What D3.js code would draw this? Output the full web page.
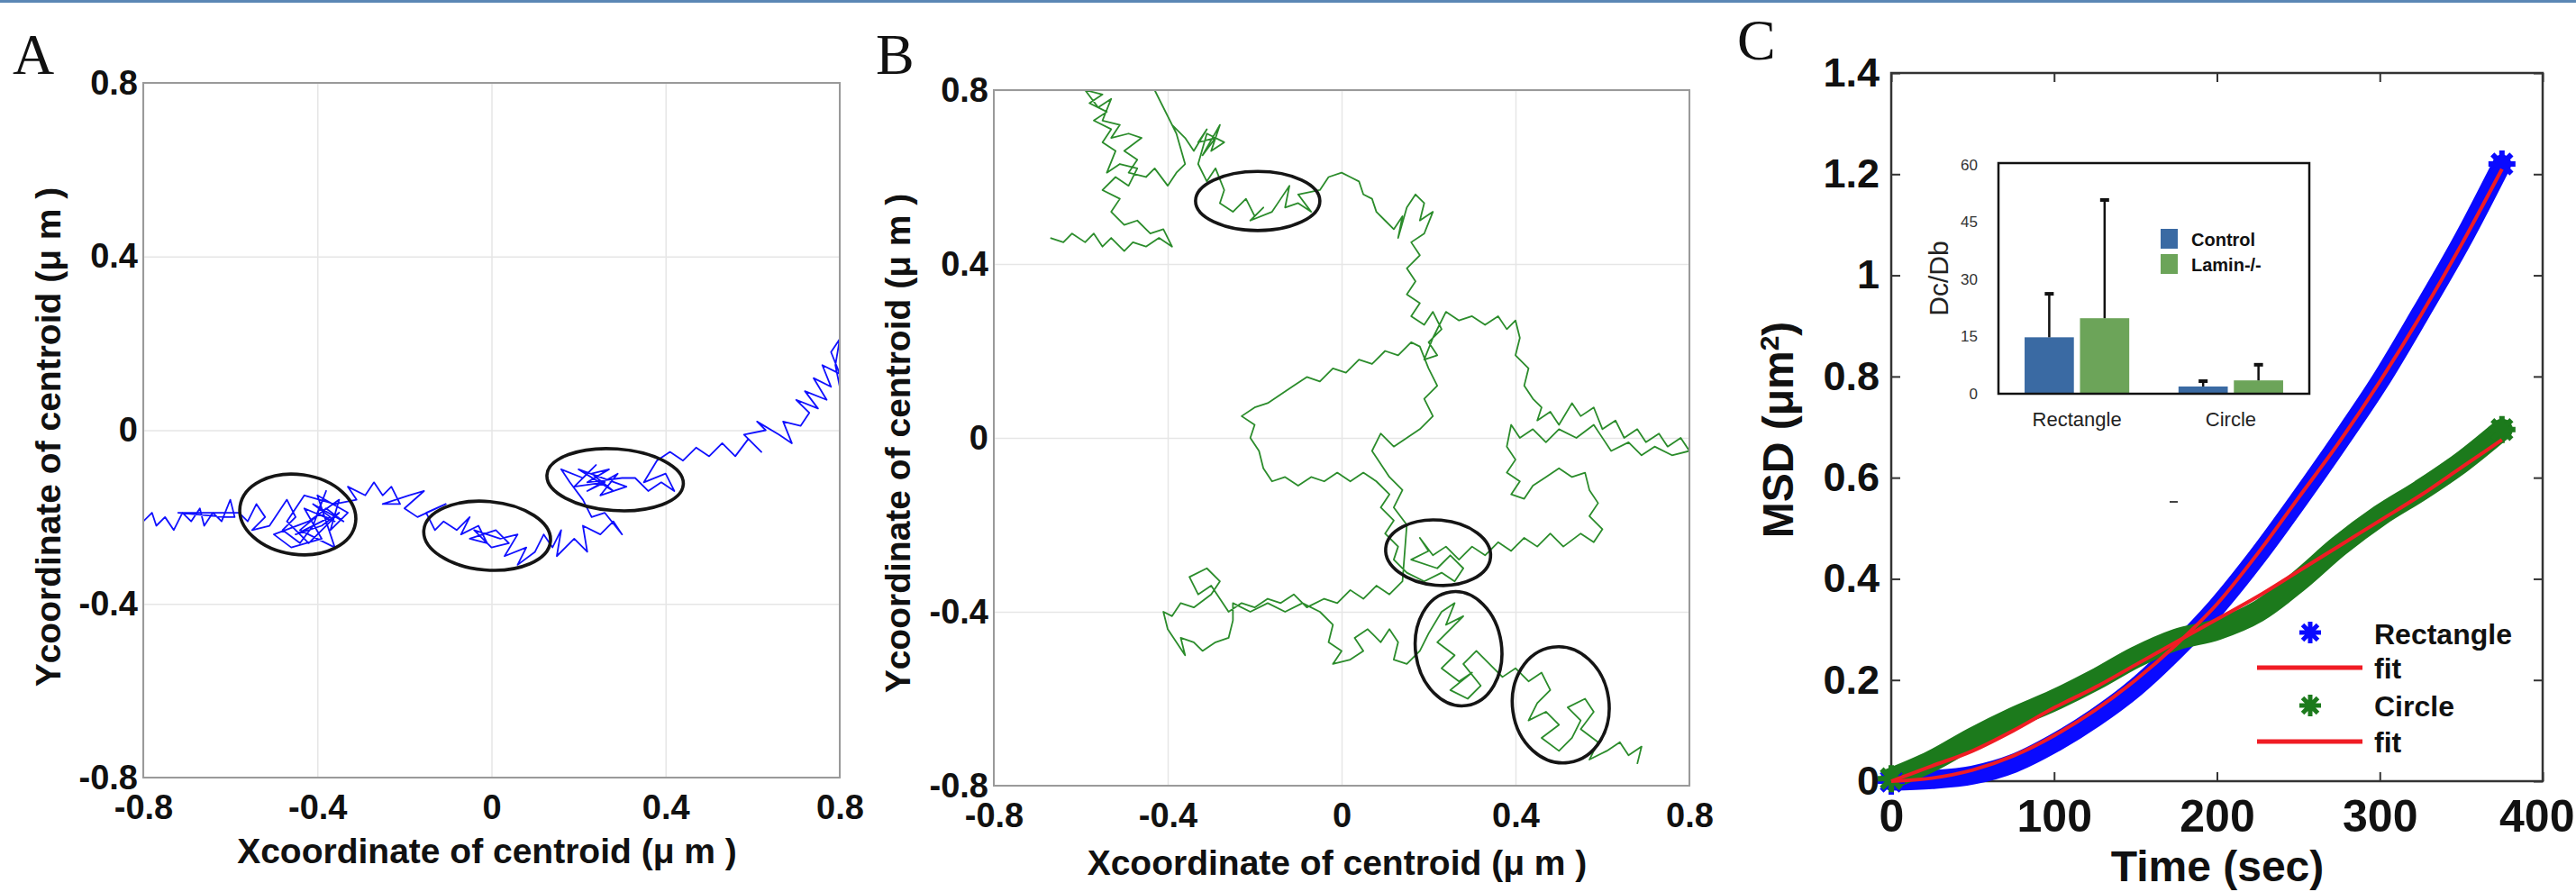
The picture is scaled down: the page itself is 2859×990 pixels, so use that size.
<!DOCTYPE html>
<html lang="en">
<head>
    <meta charset="UTF-8">
    <title>Centroid tracks and MSD</title>
    <script src="https://cdn.jsdelivr.net/npm/d3@7"></script>
    <style>
        body { margin: 0; background: #fff; }
        text { font-family: "Liberation Sans", Arial, sans-serif; }
    </style>
</head>
<body>
<script>
    var W = 2859, H = 990;

    // ---- panel A / B : centroid tracks (µm) ----
    var trackTicks = [-0.8, -0.4, 0, 0.4, 0.8];

    var trackA = [
        [-0.80,-0.21],[-0.78,-0.19],[-0.77,-0.22],[-0.75,-0.20],[-0.73,-0.23],[-0.71,-0.19],[-0.69,-0.21],[-0.67,-0.18],
        [-0.66,-0.22],[-0.64,-0.19],[-0.62,-0.21],[-0.60,-0.16],[-0.59,-0.20],[-0.61,-0.20],[-0.72,-0.19],[-0.58,-0.19],
        [-0.56,-0.21],[-0.54,-0.17],[-0.52,-0.20],[-0.55,-0.23],[-0.51,-0.22],[-0.49,-0.19],[-0.47,-0.16],[-0.45,-0.20],
        [-0.48,-0.23],[-0.44,-0.26],[-0.41,-0.22],[-0.38,-0.14],[-0.40,-0.19],[-0.36,-0.21],[-0.43,-0.18],[-0.39,-0.25],
        [-0.46,-0.27],[-0.50,-0.24],[-0.42,-0.21],[-0.35,-0.16],[-0.37,-0.23],[-0.33,-0.19],[-0.40,-0.15],[-0.36,-0.27],
        [-0.44,-0.23],[-0.38,-0.18],[-0.34,-0.21],[-0.41,-0.17],[-0.37,-0.20],[-0.45,-0.24],[-0.39,-0.22],[-0.35,-0.19],
        [-0.42,-0.26],[-0.47,-0.21],[-0.43,-0.15],[-0.36,-0.17],[-0.31,-0.16],[-0.33,-0.13],[-0.29,-0.15],[-0.27,-0.12],
        [-0.25,-0.15],[-0.23,-0.13],[-0.21,-0.17],[-0.25,-0.17],[-0.19,-0.15],[-0.155,-0.14],[-0.20,-0.18],[-0.17,-0.20],
        [-0.105,-0.17],[-0.15,-0.19],[-0.13,-0.23],[-0.11,-0.21],[-0.08,-0.23],[-0.05,-0.20],[-0.07,-0.24],[-0.03,-0.22],
        [-0.01,-0.26],[-0.05,-0.25],[0.01,-0.23],[0.04,-0.26],[0.00,-0.27],[-0.04,-0.23],[0.02,-0.25],[0.06,-0.24],
        [0.03,-0.29],[0.08,-0.27],[0.06,-0.31],[0.10,-0.28],[0.12,-0.24],[0.14,-0.27],[0.16,-0.23],[0.15,-0.29],
        [0.19,-0.25],[0.22,-0.28],[0.21,-0.22],[0.25,-0.24],[0.28,-0.21],[0.30,-0.24],[0.26,-0.19],[0.23,-0.20],
        [0.21,-0.16],[0.18,-0.12],[0.16,-0.09],[0.21,-0.11],[0.24,-0.08],[0.19,-0.13],[0.26,-0.12],[0.22,-0.14],
        [0.29,-0.10],[0.25,-0.15],[0.31,-0.13],[0.20,-0.09],[0.28,-0.14],[0.23,-0.10],[0.27,-0.09],[0.22,-0.12],
        [0.30,-0.11],[0.33,-0.11],[0.36,-0.14],[0.39,-0.12],[0.42,-0.14],[0.40,-0.10],[0.35,-0.12],[0.38,-0.07],
        [0.41,-0.05],[0.44,-0.07],[0.47,-0.04],[0.50,-0.06],[0.53,-0.03],[0.56,-0.06],[0.59,-0.02],[0.62,-0.05],
        [0.58,-0.01],[0.63,0.00],[0.61,0.02],[0.66,-0.01],[0.69,-0.03],[0.67,0.02],[0.71,0.01],[0.73,0.04],
        [0.70,0.07],[0.75,0.05],[0.72,0.09],[0.77,0.07],[0.74,0.12],[0.78,0.10],[0.76,0.15],[0.80,0.13],
        [0.78,0.18],[0.80,0.21],[0.79,0.15],[0.80,0.10]
    ];
    var ellipsesA = [
        {cx: -0.445, cy: -0.194, rx: 0.134, ry: 0.092, rot: 8},
        {cx: -0.010, cy: -0.243, rx: 0.146, ry: 0.079, rot: 5},
        {cx: 0.284,  cy: -0.114, rx: 0.157, ry: 0.071, rot: 4}
    ];

    var trackB = [
        [-0.67,0.46],[-0.64,0.45],[-0.62,0.47],[-0.59,0.45],[-0.57,0.47],[-0.55,0.44],[-0.53,0.46],[-0.50,0.43],
        [-0.48,0.45],[-0.45,0.44],[-0.42,0.46],[-0.39,0.44],[-0.41,0.48],[-0.44,0.47],[-0.47,0.50],[-0.50,0.49],
        [-0.53,0.52],[-0.51,0.55],[-0.55,0.57],[-0.52,0.60],[-0.49,0.58],[-0.47,0.62],[-0.51,0.63],[-0.54,0.61],
        [-0.52,0.66],[-0.55,0.68],[-0.53,0.71],[-0.57,0.73],[-0.54,0.75],[-0.58,0.77],[-0.55,0.79],[-0.59,0.80],
        [-0.56,0.76],[-0.53,0.78],[-0.55,0.73],[-0.51,0.72],[-0.53,0.69],[-0.49,0.70],[-0.46,0.69],[-0.50,0.66],
        [-0.47,0.64],[-0.49,0.61],[-0.45,0.60],[-0.43,0.62],[-0.40,0.58],[-0.38,0.61],[-0.36,0.63],[-0.38,0.70],
        [-0.40,0.74],[-0.42,0.78],[-0.43,0.80],[-0.41,0.76],[-0.39,0.72],[-0.36,0.69],[-0.34,0.66],[-0.31,0.71],
        [-0.33,0.68],[-0.29,0.69],[-0.32,0.65],[-0.28,0.72],[-0.30,0.66],[-0.27,0.68],[-0.31,0.70],[-0.33,0.63],
        [-0.31,0.59],[-0.29,0.62],[-0.27,0.57],[-0.28,0.54],[-0.25,0.52],[-0.22,0.55],[-0.20,0.51],[-0.18,0.53],
        [-0.21,0.50],[-0.16,0.52],[-0.14,0.55],[-0.12,0.58],[-0.13,0.53],[-0.10,0.54],[-0.07,0.52],[-0.10,0.56],
        [-0.05,0.57],[-0.03,0.60],[0.00,0.61],[0.02,0.60],[0.04,0.59],[0.05,0.56],[0.07,0.55],[0.08,0.52],
        [0.10,0.50],[0.12,0.48],[0.14,0.51],[0.13,0.46],[0.15,0.53],[0.17,0.56],[0.19,0.54],[0.18,0.50],
        [0.21,0.52],[0.19,0.47],[0.16,0.45],[0.18,0.42],[0.15,0.39],[0.17,0.36],[0.15,0.33],[0.18,0.31],
        [0.16,0.28],[0.19,0.26],[0.21,0.29],[0.23,0.25],[0.20,0.22],[0.22,0.19],[0.19,0.18],[0.21,0.23],
        [0.24,0.29],[0.27,0.27],[0.30,0.28],[0.33,0.26],[0.36,0.28],[0.38,0.25],[0.40,0.27],[0.41,0.23],
        [0.40,0.19],[0.43,0.16],[0.42,0.12],[0.44,0.09],[0.46,0.07],[0.45,0.04],[0.48,0.06],[0.50,0.03],
        [0.53,0.08],[0.55,0.05],[0.58,0.07],[0.60,0.02],[0.63,0.04],[0.65,0.00],[0.68,0.02],[0.70,-0.01],
        [0.73,0.01],[0.75,-0.02],[0.78,0.00],[0.80,-0.03],[0.76,-0.04],[0.72,-0.02],[0.69,-0.04],[0.66,-0.01],
        [0.62,-0.03],[0.58,0.03],[0.54,0.00],[0.50,0.02],[0.47,-0.01],[0.44,0.02],[0.41,0.00],[0.39,0.03],
        [0.38,-0.02],[0.40,-0.05],[0.38,-0.08],[0.41,-0.10],[0.39,-0.13],[0.42,-0.14],[0.44,-0.11],[0.47,-0.09],
        [0.50,-0.07],[0.53,-0.09],[0.56,-0.08],[0.57,-0.12],[0.59,-0.15],[0.57,-0.18],[0.60,-0.21],[0.58,-0.24],
        [0.55,-0.22],[0.51,-0.25],[0.48,-0.22],[0.45,-0.25],[0.42,-0.23],[0.39,-0.26],[0.36,-0.24],[0.33,-0.27],
        [0.30,-0.25],[0.27,-0.28],[0.24,-0.25],[0.21,-0.27],[0.18,-0.23],[0.20,-0.26],[0.16,-0.28],[0.22,-0.30],
        [0.25,-0.27],[0.28,-0.30],[0.26,-0.33],[0.23,-0.31],[0.19,-0.33],[0.15,-0.31],[0.12,-0.28],[0.13,-0.25],
        [0.10,-0.22],[0.12,-0.19],[0.09,-0.16],[0.11,-0.13],[0.08,-0.10],[0.05,-0.08],[0.02,-0.10],[-0.01,-0.08],
        [-0.04,-0.10],[-0.07,-0.09],[-0.10,-0.11],[-0.13,-0.09],[-0.16,-0.10],[-0.18,-0.07],[-0.19,-0.03],[-0.21,0.00],
        [-0.20,0.03],[-0.23,0.05],[-0.20,0.07],[-0.17,0.08],[-0.14,0.10],[-0.11,0.12],[-0.08,0.14],[-0.05,0.13],
        [-0.02,0.16],[0.01,0.15],[0.04,0.18],[0.07,0.17],[0.10,0.20],[0.13,0.19],[0.16,0.22],[0.18,0.21],
        [0.20,0.16],[0.22,0.12],[0.19,0.09],[0.21,0.05],[0.18,0.02],[0.15,0.00],[0.12,-0.02],[0.09,0.01],
        [0.07,-0.03],[0.09,-0.06],[0.11,-0.09],[0.14,-0.12],[0.12,-0.16],[0.15,-0.20],[0.14,-0.33],[0.11,-0.36],
        [0.08,-0.34],[0.05,-0.37],[0.02,-0.35],[-0.01,-0.38],[-0.04,-0.37],[-0.08,-0.39],[-0.11,-0.36],[-0.14,-0.38],
        [-0.17,-0.37],[-0.20,-0.39],[-0.23,-0.38],[-0.26,-0.40],[-0.28,-0.37],[-0.30,-0.34],[-0.33,-0.36],[-0.35,-0.32],
        [-0.31,-0.30],[-0.28,-0.33],[-0.30,-0.36],[-0.34,-0.39],[-0.37,-0.38],[-0.39,-0.41],[-0.41,-0.40],[-0.40,-0.44],
        [-0.38,-0.47],[-0.36,-0.50],[-0.37,-0.46],[-0.34,-0.47],[-0.32,-0.49],[-0.29,-0.47],[-0.26,-0.46],[-0.25,-0.42],
        [-0.25,-0.38],[-0.21,-0.40],[-0.17,-0.38],[-0.13,-0.40],[-0.09,-0.38],[-0.05,-0.40],[-0.02,-0.43],[-0.03,-0.47],
        [0.00,-0.49],[-0.02,-0.52],[0.02,-0.51],[0.05,-0.49],[0.03,-0.46],[0.06,-0.44],[0.09,-0.47],[0.11,-0.44],
        [0.13,-0.47],[0.12,-0.51],[0.15,-0.52],[0.18,-0.49],[0.20,-0.45],[0.23,-0.40],[0.26,-0.38],[0.24,-0.43],
        [0.28,-0.41],[0.22,-0.47],[0.26,-0.50],[0.23,-0.53],[0.27,-0.56],[0.30,-0.54],[0.25,-0.58],[0.29,-0.60],
        [0.32,-0.57],[0.28,-0.52],[0.31,-0.49],[0.34,-0.52],[0.37,-0.55],[0.40,-0.53],[0.43,-0.56],[0.46,-0.54],
        [0.48,-0.58],[0.45,-0.61],[0.43,-0.65],[0.47,-0.63],[0.50,-0.66],[0.46,-0.69],[0.50,-0.72],[0.53,-0.69],
        [0.55,-0.65],[0.52,-0.62],[0.56,-0.60],[0.58,-0.63],[0.55,-0.67],[0.59,-0.70],[0.57,-0.74],[0.61,-0.72],
        [0.64,-0.70],[0.66,-0.73],[0.69,-0.71],[0.68,-0.75]
    ];
    var ellipsesB = [
        {cx: -0.193, cy: 0.545,  rx: 0.143, ry: 0.068, rot: 0},
        {cx: 0.222,  cy: -0.264, rx: 0.121, ry: 0.075, rot: 5},
        {cx: 0.269,  cy: -0.485, rx: 0.099, ry: 0.132, rot: -8},
        {cx: 0.504,  cy: -0.614, rx: 0.111, ry: 0.134, rot: -8}
    ];

    // ---- panel C : MSD vs time ----
    var timeSec  = [0, 25, 50, 75, 100, 125, 150, 175, 200, 225, 250, 275, 300, 325, 350, 375];
    var rectMSD  = [0, 0.003, 0.012, 0.035, 0.075, 0.125, 0.185, 0.26, 0.345, 0.445, 0.555, 0.67, 0.79, 0.925, 1.065, 1.22];
    var rectFit  = [0, 0.006, 0.022, 0.05, 0.09, 0.14, 0.2, 0.27, 0.35, 0.45, 0.56, 0.67, 0.79, 0.92, 1.06, 1.21];
    var circMSD  = [0.005, 0.04, 0.085, 0.125, 0.16, 0.2, 0.245, 0.28, 0.3, 0.335, 0.395, 0.465, 0.525, 0.575, 0.63, 0.695];
    var circFit  = [0, 0.03, 0.06, 0.1, 0.145, 0.185, 0.23, 0.275, 0.32, 0.365, 0.415, 0.465, 0.515, 0.565, 0.62, 0.675];
    var msdTicks  = [0, 0.2, 0.4, 0.6, 0.8, 1, 1.2, 1.4];
    var timeTicks = [0, 100, 200, 300, 400];

    // inset bars: Dc/Db
    var insetGroups = ["Rectangle", "Circle"];
    var insetSeries = ["Control", "Lamin-/-"];
    var controlMean = [14.8, 1.9], controlSD = [11.4, 1.4];
    var laminMean   = [19.8, 3.5], laminSD   = [31.0, 4.1];
    var insetTicks  = [0, 15, 30, 45, 60];

    // plain hyphen for negatives, like the original
    var fmt = function (d) { return String(+d.toFixed(1)); };

    var svg = d3.select("body").append("svg").attr("width", W).attr("height", H);
    svg.append("rect").attr("width", W).attr("height", H).attr("fill", "#fff");
    svg.append("rect").attr("width", W).attr("height", 3).attr("fill", "#5b87b5");

    function panelLetter(txt, x, y) {
        svg.append("text").attr("x", x).attr("y", y).text(txt)
            .style("font-family", '"Liberation Serif", "Times New Roman", serif')
            .style("font-size", "64px").attr("fill", "#111");
    }

    // track panel (A and B share the same layout)
    function trackPanel(id, box, track, ellipses, color, xTitle, yTitle) {
        var g = svg.append("g");
        var x = d3.scaleLinear().domain([-0.8, 0.8]).range([box.l, box.r]);
        var y = d3.scaleLinear().domain([-0.8, 0.8]).range([box.b, box.t]);

        var xa = g.append("g").attr("transform", "translate(0," + box.b + ")")
            .call(d3.axisBottom(x).tickValues(trackTicks).tickSize(-(box.b - box.t)).tickPadding(19).tickFormat(fmt));
        var ya = g.append("g").attr("transform", "translate(" + box.l + ",0)")
            .call(d3.axisLeft(y).tickValues(trackTicks).tickSize(-(box.r - box.l)).tickPadding(6).tickFormat(fmt));
        [xa, ya].forEach(function (a) {
            a.select(".domain").remove();
            a.selectAll("line").attr("stroke", "#e6e6e6").attr("stroke-width", 1.5);
            a.selectAll("text").style("font-size", "38px").style("font-weight", "bold").attr("fill", "#111");
        });

        g.append("clipPath").attr("id", id).append("rect")
            .attr("x", box.l).attr("y", box.t).attr("width", box.r - box.l).attr("height", box.b - box.t);

        var line = d3.line().x(function (d) { return x(d[0]); }).y(function (d) { return y(d[1]); });
        g.append("path").datum(track).attr("d", line)
            .attr("fill", "none").attr("stroke", color).attr("stroke-width", 1.8)
            .attr("stroke-linejoin", "round").attr("clip-path", "url(#" + id + ")");

        var kx = (box.r - box.l) / 1.6, ky = (box.b - box.t) / 1.6;
        g.selectAll("ellipse").data(ellipses).enter().append("ellipse")
            .attr("cx", function (d) { return x(d.cx); })
            .attr("cy", function (d) { return y(d.cy); })
            .attr("rx", function (d) { return d.rx * kx; })
            .attr("ry", function (d) { return d.ry * ky; })
            .attr("transform", function (d) { return "rotate(" + d.rot + "," + x(d.cx) + "," + y(d.cy) + ")"; })
            .attr("fill", "none").attr("stroke", "#151515").attr("stroke-width", 3.6);

        g.append("rect").attr("x", box.l).attr("y", box.t)
            .attr("width", box.r - box.l).attr("height", box.b - box.t)
            .attr("fill", "none").attr("stroke", "#9a9a9a").attr("stroke-width", 2);

        g.append("text").attr("x", (box.l + box.r) / 2 - 5).attr("y", xTitle)
            .attr("text-anchor", "middle").style("font-size", "39px").style("font-weight", "bold")
            .attr("fill", "#111").text("Xcoordinate of centroid (\u03bc m )");
        g.append("text").attr("transform", "translate(" + yTitle.x + "," + yTitle.y + ") rotate(-90)")
            .attr("text-anchor", "middle").style("font-size", "39px").style("font-weight", "bold")
            .attr("fill", "#111").text("Ycoordinate of centroid (\u03bc m )");
    }

    panelLetter("A", 14, 82);
    trackPanel("clipA", {l: 159, r: 932, t: 92, b: 863}, trackA, ellipsesA, "#1010ff", 958, {x: 67, y: 485});
    panelLetter("B", 972, 82);
    trackPanel("clipB", {l: 1103, r: 1875, t: 100, b: 872}, trackB, ellipsesB, "#2b8c2b", 971, {x: 1010, y: 492});

    // ---- panel C ----
    panelLetter("C", 1928, 66);
    var c = {l: 2099, r: 2822, t: 81, b: 867};
    var xC = d3.scaleLinear().domain([0, 400]).range([c.l, c.r]);
    var yC = d3.scaleLinear().domain([0, 1.4]).range([c.b, c.t]);
    var gC = svg.append("g");

    var axB = gC.append("g").attr("transform", "translate(0," + c.b + ")")
        .call(d3.axisBottom(xC).tickValues(timeTicks).tickSize(-10).tickPadding(20));
    var axT = gC.append("g").attr("transform", "translate(0," + c.t + ")")
        .call(d3.axisTop(xC).tickValues(timeTicks).tickSize(-10).tickFormat(""));
    var axL = gC.append("g").attr("transform", "translate(" + c.l + ",0)")
        .call(d3.axisLeft(yC).tickValues(msdTicks).tickSize(-10).tickPadding(13).tickFormat(fmt));
    var axR = gC.append("g").attr("transform", "translate(" + c.r + ",0)")
        .call(d3.axisRight(yC).tickValues(msdTicks).tickSize(-10).tickFormat(""));
    [axB, axT, axL, axR].forEach(function (a) {
        a.select(".domain").remove();
        a.selectAll("line").attr("stroke", "#333").attr("stroke-width", 2);
    });
    axB.selectAll("text").style("font-size", "50px").style("font-weight", "bold").attr("fill", "#111");
    // last label sits at the page edge: keep it inside
    axB.selectAll(".tick").filter(function (d) { return d === 400; }).select("text")
        .attr("text-anchor", "end").attr("x", 2857 - c.r);
    axL.selectAll("text").style("font-size", "45px").style("font-weight", "bold").attr("fill", "#111");

    gC.append("rect").attr("x", c.l).attr("y", c.t).attr("width", c.r - c.l).attr("height", c.b - c.t)
        .attr("fill", "none").attr("stroke", "#333").attr("stroke-width", 2.5);

    function seriesLine(vals) {
        return d3.line().curve(d3.curveMonotoneX)
            .x(function (d, i) { return xC(timeSec[i]); })
            .y(function (d) { return yC(d); })(vals);
    }
    function asterisk(r) {
        var k = r * 0.7071;
        return "M" + (-r) + ",0L" + r + ",0M0," + (-r) + "L0," + r +
            "M" + (-k) + "," + (-k) + "L" + k + "," + k + "M" + (-k) + "," + k + "L" + k + "," + (-k);
    }

    gC.append("path").attr("d", seriesLine(rectMSD)).attr("fill", "none")
        .attr("stroke", "#0a0aff").attr("stroke-width", 21).attr("stroke-linecap", "round");
    gC.append("path").attr("d", seriesLine(circMSD)).attr("fill", "none")
        .attr("stroke", "#1c7a1c").attr("stroke-width", 24).attr("stroke-linecap", "round");
    [[rectMSD, "#0a0aff"], [circMSD, "#1c7a1c"]].forEach(function (s) {
        [0, timeSec.length - 1].forEach(function (i) {
            gC.append("path").attr("d", asterisk(15))
                .attr("transform", "translate(" + xC(timeSec[i]) + "," + yC(s[0][i]) + ")")
                .attr("stroke", s[1]).attr("stroke-width", 6).attr("fill", "none");
        });
    });
    gC.append("path").attr("d", seriesLine(rectFit)).attr("fill", "none")
        .attr("stroke", "#f01c24").attr("stroke-width", 4);
    gC.append("path").attr("d", seriesLine(circFit)).attr("fill", "none")
        .attr("stroke", "#f01c24").attr("stroke-width", 4);

    // stray mark in the original
    gC.append("line").attr("x1", 2408).attr("x2", 2417).attr("y1", 557).attr("y2", 557)
        .attr("stroke", "#444").attr("stroke-width", 2);

    // legend
    var leg = gC.append("g");
    leg.append("path").attr("d", asterisk(12)).attr("transform", "translate(2564,702)")
        .attr("stroke", "#0a0aff").attr("stroke-width", 5).attr("fill", "none");
    leg.append("path").attr("d", asterisk(12)).attr("transform", "translate(2564,783)")
        .attr("stroke", "#1c7a1c").attr("stroke-width", 5).attr("fill", "none");
    [741, 823].forEach(function (yy) {
        leg.append("line").attr("x1", 2505).attr("x2", 2622).attr("y1", yy).attr("y2", yy)
            .attr("stroke", "#f01c24").attr("stroke-width", 5);
    });
    [["Rectangle", 715], ["fit", 753], ["Circle", 795], ["fit", 835]].forEach(function (t) {
        leg.append("text").attr("x", 2635).attr("y", t[1]).text(t[0])
            .style("font-size", "32px").style("font-weight", "bold").attr("fill", "#111");
    });

    gC.append("text").attr("x", 2461).attr("y", 978).attr("text-anchor", "middle")
        .style("font-size", "48px").style("font-weight", "bold").attr("fill", "#111").text("Time (sec)");
    var yt = gC.append("text").attr("transform", "translate(1990,477) rotate(-90)").attr("text-anchor", "middle")
        .style("font-size", "48px").style("font-weight", "bold").attr("fill", "#111");
    yt.append("tspan").text("MSD (\u03bcm");
    yt.append("tspan").text("2").attr("baseline-shift", "super").style("font-size", "30px");
    yt.append("tspan").text(")");

    // ---- inset bar chart ----
    var ib = {l: 2218, r: 2563, t: 181, b: 437};
    var gI = svg.append("g");
    var xb = d3.scaleBand().domain(insetGroups).range([ib.l, ib.r]).paddingInner(0.32).paddingOuter(0.17);
    var xs = d3.scaleBand().domain(insetSeries).range([0, xb.bandwidth()]).paddingInner(0.11);
    var yi = d3.scaleLinear().domain([0, 60]).range([ib.b, ib.t + 2]);
    var barColor = {"Control": "#3a6aa3", "Lamin-/-": "#6ca459"};

    var bars = [];
    insetGroups.forEach(function (gname, i) {
        bars.push({g: gname, s: "Control", m: controlMean[i], sd: controlSD[i]});
        bars.push({g: gname, s: "Lamin-/-", m: laminMean[i], sd: laminSD[i]});
    });

    gI.selectAll("rect.bar").data(bars).enter().append("rect").attr("class", "bar")
        .attr("x", function (d) { return xb(d.g) + xs(d.s); })
        .attr("y", function (d) { return yi(d.m); })
        .attr("width", xs.bandwidth())
        .attr("height", function (d) { return yi(0) - yi(d.m); })
        .attr("fill", function (d) { return barColor[d.s]; });
    bars.forEach(function (d) {
        var cx = xb(d.g) + xs(d.s) + xs.bandwidth() / 2;
        gI.append("line").attr("x1", cx).attr("x2", cx).attr("y1", yi(d.m)).attr("y2", yi(d.m + d.sd))
            .attr("stroke", "#111").attr("stroke-width", 2.5);
        gI.append("line").attr("x1", cx - 5).attr("x2", cx + 5).attr("y1", yi(d.m + d.sd)).attr("y2", yi(d.m + d.sd))
            .attr("stroke", "#111").attr("stroke-width", 4);
    });

    gI.append("rect").attr("x", ib.l).attr("y", ib.t).attr("width", ib.r - ib.l).attr("height", ib.b - ib.t)
        .attr("fill", "none").attr("stroke", "#111").attr("stroke-width", 2.5);

    var iyAx = gI.append("g").attr("transform", "translate(" + ib.l + ",0)")
        .call(d3.axisLeft(yi).tickValues(insetTicks).tickSize(0).tickPadding(23));
    iyAx.select(".domain").remove();
    iyAx.selectAll("text").style("font-size", "17px").attr("fill", "#333");
    var ixAx = gI.append("g").attr("transform", "translate(0," + ib.b + ")")
        .call(d3.axisBottom(xb).tickSize(0).tickPadding(20));
    ixAx.select(".domain").remove();
    ixAx.selectAll("text").style("font-size", "22px").attr("fill", "#222");

    gI.append("text").attr("transform", "translate(2162,309) rotate(-90)").attr("text-anchor", "middle")
        .style("font-size", "30px").attr("fill", "#222").text("Dc/Db");

    insetSeries.forEach(function (s, i) {
        gI.append("rect").attr("x", 2398).attr("y", 254 + i * 28).attr("width", 19).attr("height", 22)
            .attr("fill", barColor[s]);
        gI.append("text").attr("x", 2432).attr("y", 273 + i * 28).text(s)
            .style("font-size", "20px").style("font-weight", "bold").attr("fill", "#111");
    });
</script>
</body>
</html>
